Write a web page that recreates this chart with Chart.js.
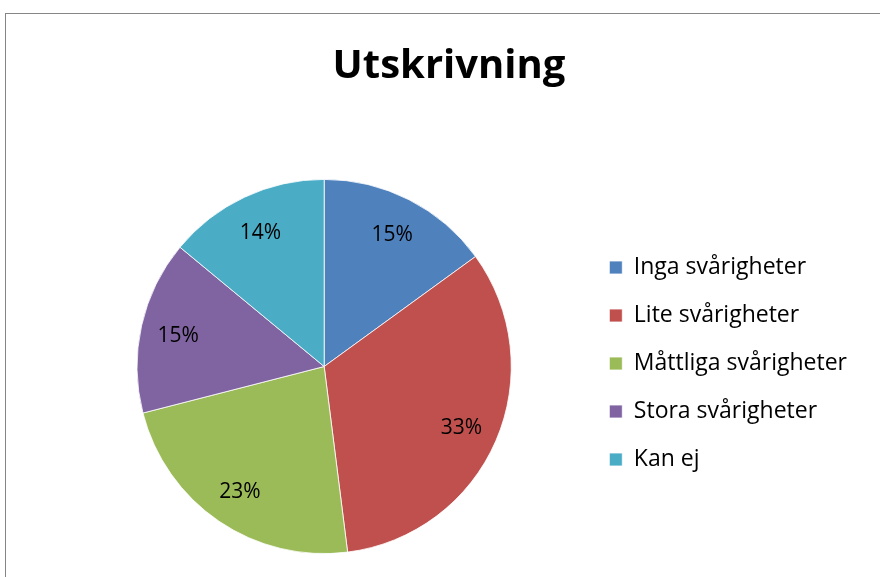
<!DOCTYPE html>
<html>
<head>
<meta charset="utf-8">
<script src="https://cdn.jsdelivr.net/npm/chart.js@4/dist/chart.umd.min.js"></script>
<style>
  html, body { margin: 0; padding: 0; background: #fff; overflow: hidden; }
  #frame {
    position: absolute; left: 5px; top: 13px;
    width: 888px; height: 564px;
    border-left: 1px solid #868686; border-top: 1px solid #868686;
    background: #fff;
  }
</style>
</head>
<body>
<div id="frame"><canvas id="pie"></canvas></div>
<script>
const categories = ["Inga svårigheter", "Lite svårigheter", "Måttliga svårigheter", "Stora svårigheter", "Kan ej"];
const shares = [15, 33, 23, 15, 14];
const colours = ["#4F81BD", "#C0504D", "#9BBB59", "#8064A2", "#4BACC6"];

const FONT = "'Open Sans', 'Noto Sans', sans-serif";

// percent labels inside each slice (no datalabels plugin available)
const sliceLabels = {
  id: "sliceLabels",
  afterDatasetsDraw(chart) {
    const ctx = chart.ctx;
    const meta = chart.getDatasetMeta(0);
    const total = shares.reduce((a, b) => a + b, 0);
    ctx.save();
    ctx.font = "21px " + FONT;
    ctx.fillStyle = "#000";
    ctx.textAlign = "center";
    ctx.textBaseline = "middle";
    meta.data.forEach((arc, i) => {
      const p = arc.getProps(["x", "y", "startAngle", "endAngle", "outerRadius"], true);
      const mid = (p.startAngle + p.endAngle) / 2;
      const r = p.outerRadius * 0.8;
      ctx.fillText(Math.round(shares[i] / total * 100) + "%", p.x + Math.cos(mid) * r, p.y + Math.sin(mid) * r + 2);
    });
    ctx.restore();
  }
};

new Chart(document.getElementById("pie").getContext("2d"), {
  type: "pie",
  data: {
    labels: categories,
    datasets: [{
      data: shares,
      backgroundColor: colours,
      borderColor: "#fff",
      borderWidth: 0.8,
    }],
  },
  options: {
    responsive: true,
    maintainAspectRatio: false,
    animation: false,
    layout: { padding: { left: 35, right: 37, top: 0, bottom: 24 } },
    plugins: {
      title: {
        display: true,
        text: "Utskrivning",
        color: "#000",
        font: { family: FONT, size: 40, weight: "bold", lineHeight: 1.2 },
        padding: { top: 29, bottom: 88 },
      },
      legend: {
        position: "right",
        align: "start",
        title: {
          display: true,
          text: " ",
          font: { size: 10, lineHeight: 1 },
          padding: { top: 0, bottom: 230 },
        },
        labels: {
          color: "#000",
          font: { family: FONT, size: 23, lineHeight: 2 },
          boxWidth: 13,
          boxHeight: 13,
          padding: 2,
          // one-line arrays so the row height follows the font lineHeight
          generateLabels(chart) {
            return Chart.overrides.pie.plugins.legend.labels.generateLabels(chart)
              .map((item) => Object.assign(item, { text: [item.text] }));
          },
        },
      },
      tooltip: { enabled: false },
    },
  },
  plugins: [sliceLabels],
});
</script>
</body>
</html>
